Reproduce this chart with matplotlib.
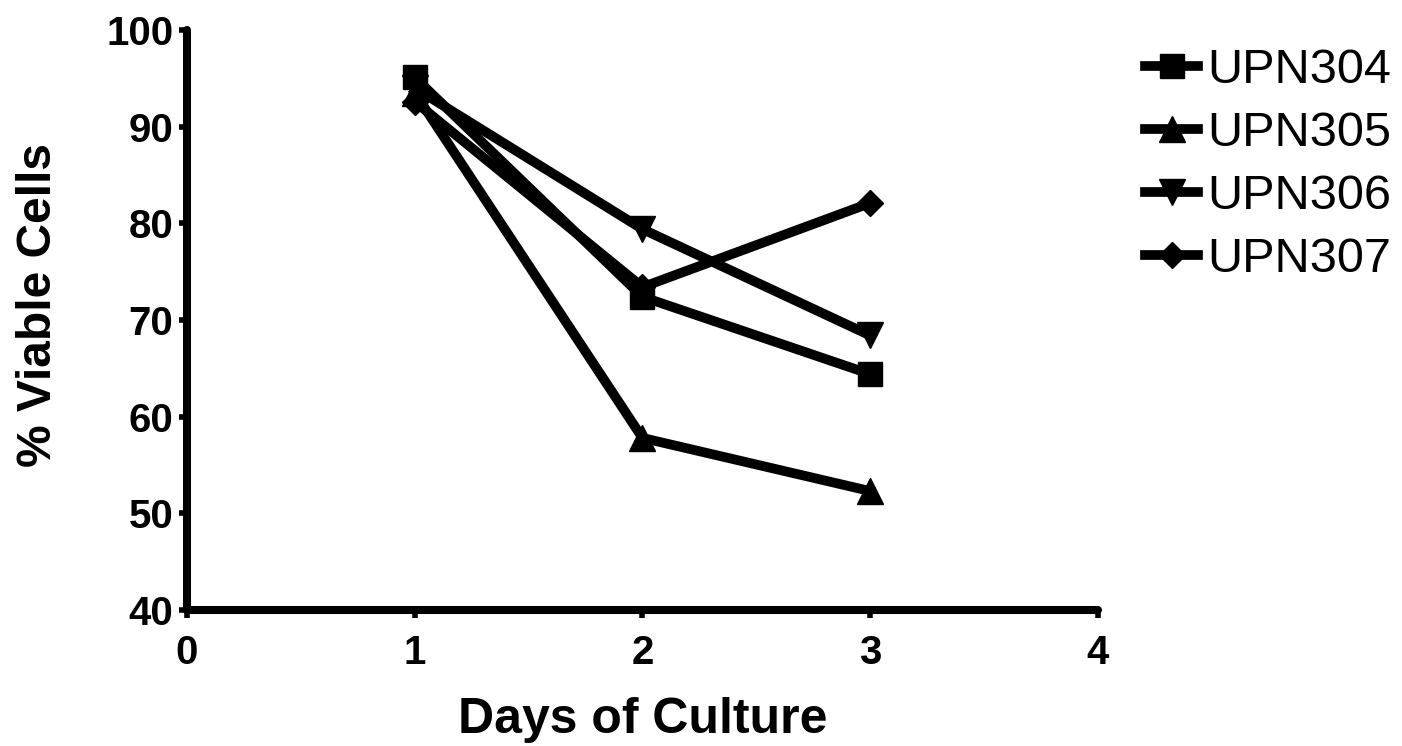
import matplotlib.pyplot as plt

plt.rcParams['font.family'] = ['Liberation Sans', 'DejaVu Sans']

days = [1, 2, 3]
upn304 = [95.1, 72.4, 64.4]
upn305 = [93.5, 57.8, 52.3]
upn306 = [94.0, 79.4, 68.4]
upn307 = [92.6, 73.4, 82.1]

series = [
    ('UPN304', upn304, 's', 17, 5),
    ('UPN305', upn305, '^', 19, 2),
    ('UPN306', upn306, 'v', 19, 3),
    ('UPN307', upn307, 'D', 13, 4),
]

fig = plt.figure(figsize=(14.02, 7.46), dpi=100)
ax = fig.add_axes([0.1334, 0.1823, 0.6497, 0.7775])

for name, vals, mk, ms, z in series:
    ax.plot(days, vals, color='black', lw=7, marker=mk, markersize=ms,
            solid_joinstyle='miter', label=name, clip_on=False, zorder=z)

ax.set_xlim(0, 4)
ax.set_ylim(40, 100)
ax.set_xticks([0, 1, 2, 3, 4])
ax.set_yticks([40, 50, 60, 70, 80, 90, 100])

for side in ['top', 'right']:
    ax.spines[side].set_visible(False)
for side in ['left', 'bottom']:
    ax.spines[side].set_linewidth(5.8)
    ax.spines[side].set_capstyle('round')

ax.tick_params(width=4, length=6, labelsize=29)
ax.tick_params(axis='x', pad=11)
ax.tick_params(axis='y', pad=4)
for lab in ax.get_xticklabels() + ax.get_yticklabels():
    lab.set_fontweight('bold')

ax.set_xlabel('Days of Culture', fontsize=36, fontweight='bold', va='center')
ax.set_ylabel('% Viable Cells', fontsize=34.5, fontweight='bold', va='center')
ax.xaxis.set_label_coords(0.5, -0.19)
ax.yaxis.set_label_coords(-0.1636, 0.526)

fig.legend(loc='upper left', bbox_to_anchor=(0.817, 0.935), frameon=False,
           fontsize=35, handlelength=1.09, handletextpad=0.18,
           labelspacing=0.37, borderaxespad=0, borderpad=0)

fig.savefig('out.png', dpi=100)
